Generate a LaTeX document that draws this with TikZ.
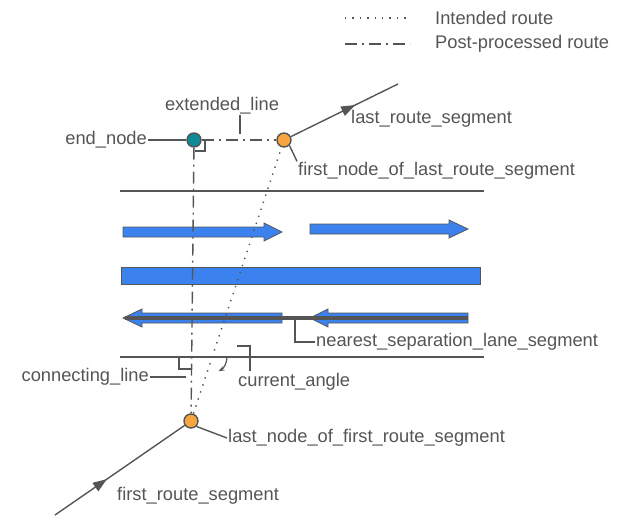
\documentclass[tikz,border=0pt]{standalone}
\usepackage{fontspec}
\setmainfont{Liberation Sans}
\usetikzlibrary{arrows.meta,decorations.markings}
\definecolor{gr}{HTML}{555555}
\definecolor{bl}{HTML}{3B82EE}
\definecolor{tl}{HTML}{0E8A96}
\definecolor{og}{HTML}{F7A540}
\begin{document}
\begin{tikzpicture}[x=1pt,y=-1pt,
  lbl/.style={font=\fontsize{18.3}{20}\selectfont,text=gr,inner sep=1pt},
  ln/.style={draw=gr,line width=1.4pt},
  dd/.style={draw=gr,line width=1.4pt,dash pattern=on 12pt off 5pt on 2pt off 5pt},
  dt/.style={draw=gr,line width=1.4pt,dash pattern=on 1.4pt off 6pt},
  pt/.style={circle,draw=gr,line width=1.4pt,minimum size=14pt,inner sep=0pt},
  midarrow/.style={postaction={decorate},decoration={markings,mark=at position #1 with {\arrow{Triangle[length=14pt,width=10pt]}}}},
  barr/.style={fill=bl,draw=gr,line width=0.8pt}]
\useasboundingbox (0,0) rectangle (622,528);
% legend
\coordinate (l1a) at (345,18); \coordinate (l1b) at (410,18);
\coordinate (l2a) at (345,44); \coordinate (l2b) at (410,44);
\draw[dt] (l1a) -- (l1b);
\draw[dd] (l2a) -- (l2b);
\node[lbl,anchor=west] (leg1) at (434,18) {Intended route};
\node[lbl,anchor=west] (leg2) at (434,44) {Post-processed route};
% lane lines
\coordinate (t1) at (120,191); \coordinate (t2) at (484,191);
\coordinate (b1) at (120,357); \coordinate (b2) at (484,357);
\draw[ln] (t1) -- (t2);
\draw[ln] (b1) -- (b2);
% blue arrows
\draw[barr] (123,227) -- (264,227) -- (264,223) -- (282,232) -- (264,241) -- (264,237) -- (123,237) -- cycle;
\draw[barr] (310,224) -- (449,224) -- (449,220) -- (468,229) -- (449,238) -- (449,234) -- (310,234) -- cycle;
\draw[barr] (121,267) rectangle (480,284);
\draw[barr] (282,313) -- (142,313) -- (142,309) -- (123,318) -- (142,327) -- (142,323) -- (282,323) -- cycle;
\draw[barr] (468,313) -- (328,313) -- (328,309) -- (310,318) -- (328,327) -- (328,323) -- (468,323) -- cycle;
\coordinate (s1) at (125,318); \coordinate (s2) at (468,318);
\draw[draw=gr,line width=3.5pt] (s1) -- (s2);
% nodes
\node[pt,fill=tl] (en) at (194,140) {};
\node[pt,fill=og] (fn) at (284,140) {};
\node[pt,fill=og] (ln) at (191,421) {};
\coordinate (lrs) at (398,84);
\coordinate (frs) at (55,515);
\draw[ln,midarrow=0.6] (fn) -- (lrs);
\draw[ln,midarrow=0.4] (frs) -- (ln);
\draw[dd] (en) -- (fn);
\draw[dd] (en) -- (ln);
\draw[dt] (ln) -- (fn);
% right angles
\draw[draw=gr,line width=1.2pt] (195,151) -- (205,151) -- (205,141);
\draw[draw=gr,line width=1.2pt] (179,357) -- (179,369) -- (192,369);
% angle arc
\draw[draw=gr,line width=1.2pt,-{Stealth[length=6pt]}] (227,357) arc[start angle=0,end angle=62,radius=16];
% labels
\node[lbl,anchor=east] (enl) at (148,140) {end\_node};
\draw[ln] (enl.east) -- (en.west);
\node[lbl] (exl) at (222,106) {extended\_line};
\coordinate (exa) at (240,115); \coordinate (exb) at (240,134);
\draw[ln] (exa) -- (exb);
\node[lbl,anchor=west] (lrsl) at (350,119) {last\_route\_segment};
\node[lbl,anchor=west] (fnl) at (297,171) {first\_node\_of\_last\_route\_segment};
\draw[ln] (fn.south east) -- (fnl.north west);
\node[lbl,anchor=east] (cl) at (150,377) {connecting\_line};
\coordinate (clb) at (186,377);
\draw[ln] (cl.east) -- (clb);
\node[lbl,anchor=west] (cal) at (237,382) {current\_angle};
\draw[ln] (237,346) -- (250,346) -- (250,371);
\node[lbl,anchor=west] (nsl) at (315,342) {nearest\_separation\_lane\_segment};
\draw[ln] (295,320) -- (295,342) -- (nsl.west);
\node[lbl,anchor=west] (lnl) at (227,438) {last\_node\_of\_first\_route\_segment};
\draw[ln] (ln.south east) -- (lnl.west);
\node[lbl,anchor=west] (frsl) at (116,496) {first\_route\_segment};
\end{tikzpicture}
\end{document}
